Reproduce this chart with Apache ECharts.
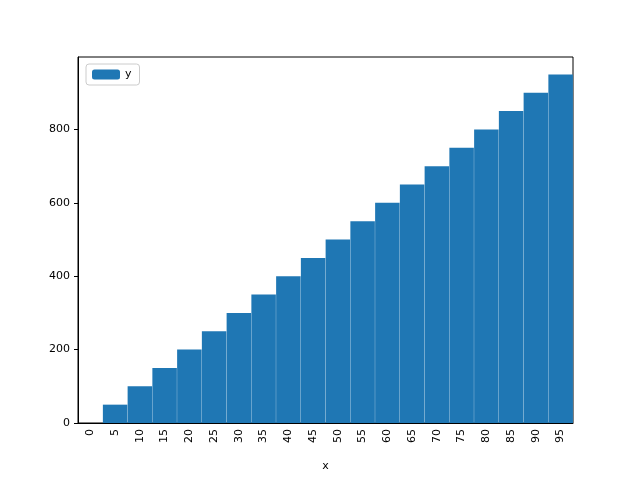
<!DOCTYPE html>
<html><head><meta charset="utf-8">
<script src="https://cdn.jsdelivr.net/npm/echarts@6/dist/echarts.min.js"></script>
</head><body style="margin:0">
<div id="c" style="width:634px;height:477px"></div>
<script>
const categories = ['0','5','10','15','20','25','30','35','40','45','50','55','60','65','70','75','80','85','90','95'];
const yValues = [0,50,100,150,200,250,300,350,400,450,500,550,600,650,700,750,800,850,900,950];
const chart = echarts.init(document.getElementById('c'));
const txt = {color:'#000', fontFamily:'DejaVu Sans', fontSize:10};
chart.setOption({
  animation:false,
  backgroundColor:'#fff',
  grid:{left:78,right:61,top:57,bottom:51,show:true,borderColor:'#000',borderWidth:1},
  legend:{left:86,top:64,orient:'vertical',itemWidth:28,itemHeight:10,
    textStyle:{...txt,fontSize:11},borderColor:'#ccc',borderWidth:1,borderRadius:3,padding:[5,8,5,6],
    data:['y']},
  xAxis:{type:'category',data:categories,name:'x',nameLocation:'middle',nameGap:38,nameTextStyle:{...txt,fontSize:11},
    axisLine:{lineStyle:{color:'#000'}},axisTick:{alignWithLabel:true,lineStyle:{color:'#000'},length:4},
    axisLabel:{...txt,fontSize:11,rotate:90,margin:6},splitLine:{show:false}},
  yAxis:{type:'value',min:0,max:997.5,interval:200,
    axisLine:{show:true,lineStyle:{color:'#000'}},axisTick:{show:true,lineStyle:{color:'#000'},length:4},
    axisLabel:{...txt,fontSize:11,showMaxLabel:false,formatter:v=>v%200===0?v:''},splitLine:{show:false}},
  series:[{name:'y',type:'bar',data:yValues,barCategoryGap:'0%',barWidth:'99%',itemStyle:{color:'#1f77b4'}}]
});
</script></body></html>
